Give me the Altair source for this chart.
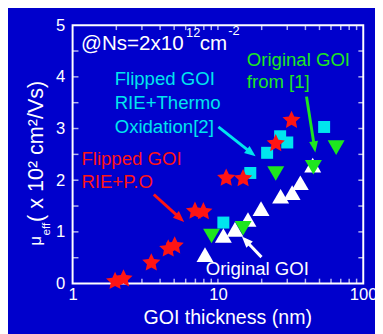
import math
import altair as alt
import pandas as pd

# ---------------- data ----------------
star_x = [1.96, 2.24, 3.48, 4.55, 5.04, 6.95, 7.94, 11.4, 14.9, 25.0, 32.1]
star_y = [0.06, 0.11, 0.42, 0.69, 0.75, 1.42, 1.41, 2.06, 2.05, 2.73, 3.18]

sq_x = [10.9, 16.7, 21.8, 26.8, 30.0, 53.8]
sq_y = [1.18, 2.14, 2.53, 2.85, 2.73, 3.03]

gtri_x = [9.04, 14.9, 25.0, 45.4, 65.1]
gtri_y = [0.92, 1.07, 2.13, 2.25, 2.63]

wtri_x = [8.15, 10.9, 13.1, 16.1, 19.8, 27.0, 32.4, 36.9, 44.9]
wtri_y = [0.56, 0.93, 1.05, 1.24, 1.45, 1.69, 1.76, 1.95, 2.29]

x_label_vals = [1, 10, 100]
y_label_vals = [0, 1, 2, 3, 4, 5]
x_minor_vals = [2, 3, 4, 5, 6, 7, 8, 9, 10, 20, 30, 40, 50, 60, 70, 80, 90]
y_minor_vals = [0.5, 1, 1.5, 2, 2.5, 3, 3.5, 4, 4.5]

# ---------------- styles ----------------
W, H = 297, 264
BG = "#0000CC"
RED = "#FF1414"
CYAN = "#00E5EE"
GREEN = "#1EE61E"
WHITE = "#FFFFFF"
FONT = "Liberation Sans"

def star_path(n=5, r_in=0.48):
    pts = []
    for i in range(2 * n):
        r = 1.0 if i % 2 == 0 else r_in
        a = math.pi * i / n
        pts.append((r * math.sin(a), -r * math.cos(a) + 0.1))
    return "M" + "L".join(f"{x:.4f},{y:.4f}" for x, y in pts) + "Z"

STAR = star_path()
HEAD = "M0,0L0.8,2L-0.8,2Z"

xscale = alt.Scale(type="log", domain=[1, 100], nice=False)
yscale = alt.Scale(domain=[0, 5], nice=False)

def xenc(field="x"):
    return alt.X(f"{field}:Q", scale=xscale,
                 axis=alt.Axis(values=x_label_vals, format="~g", ticks=False, domain=False,
                               grid=False, labelFontSize=17, labelColor=WHITE, labelFont=FONT,
                               labelPadding=3, labelFlush=False, labelOverlap=False,
                               title="GOI thickness (nm)", titleFontSize=20, titleColor=WHITE,
                               titleFont=FONT, titleFontWeight="normal", titleX=158, titleY=41,
                               titleBaseline="alphabetic"))

def yenc(field="y"):
    return alt.Y(f"{field}:Q", scale=yscale,
                 axis=alt.Axis(values=y_label_vals, ticks=False, domain=False, grid=False,
                               labelFontSize=17, labelColor=WHITE, labelFont=FONT,
                               labelPadding=8, labelFlush=False, labelOverlap=False, title=None))

def pts(xs, ys, shape, size, color):
    df = pd.DataFrame({"x": xs, "y": ys})
    return alt.Chart(df).mark_point(shape=shape, size=size, filled=True, color=color,
                                    opacity=1, strokeWidth=0).encode(x=xenc(), y=yenc())

one = pd.DataFrame({"a": [0]})

def txt(s, x, y, size, color, angle=0, align="left", baseline="alphabetic", lh=None):
    kw = dict(align=align, baseline=baseline, fontSize=size, color=color, font=FONT,
              angle=angle, lineBreak="\n")
    if lh:
        kw["lineHeight"] = lh
    return alt.Chart(one).mark_text(**kw).encode(x=alt.value(x), y=alt.value(y), text=alt.value(s))

def arrow(color, start, end, width=3):
    (x0, y0), (x1, y1) = start, end
    dx, dy = x1 - x0, y1 - y0
    L = math.hypot(dx, dy)
    ux, uy = dx / L, dy / L
    sx, sy = x1 - ux * 8, y1 - uy * 8
    ang = math.degrees(math.atan2(dx, -dy)) % 360
    shaft = alt.Chart(one).mark_rule(color=color, strokeWidth=width).encode(
        x=alt.value(x0), y=alt.value(y0), x2=alt.value(sx), y2=alt.value(sy))
    head = alt.Chart(one).mark_point(shape=HEAD, size=130, filled=True, color=color, opacity=1,
                                     strokeWidth=0, angle=ang).encode(
        x=alt.value(x1), y=alt.value(y1))
    return [shaft, head]

# inward ticks
xt = pd.DataFrame({"t": x_minor_vals})
yt = pd.DataFrame({"t": y_minor_vals})
tick_bottom = alt.Chart(xt).mark_tick(orient="vertical", size=5, thickness=1.5, color=WHITE).encode(
    x=xenc("t"), y=alt.value(H - 2.5))
tick_top = alt.Chart(xt).mark_tick(orient="vertical", size=5, thickness=1.5, color=WHITE).encode(
    x=xenc("t"), y=alt.value(2.5))
tick_left = alt.Chart(yt).mark_tick(orient="horizontal", size=6, thickness=1.5, color=WHITE).encode(
    y=yenc("t"), x=alt.value(3))
tick_right = alt.Chart(yt).mark_tick(orient="horizontal", size=5, thickness=1.5, color=WHITE).encode(
    y=yenc("t"), x=alt.value(W - 2.5))

layers = [tick_bottom, tick_top, tick_left, tick_right,
          pts(sq_x, sq_y, "square", 150, CYAN),
          pts(wtri_x, wtri_y, "triangle-up", 300, WHITE),
          pts(gtri_x, gtri_y, "triangle-down", 300, GREEN),
          pts(star_x, star_y, STAR, 380, RED)]

# annotations
layers += [
    txt("@Ns=2x10", 8.7, 25, 21, WHITE),
    txt("12", 116, 12, 13, WHITE),
    txt("cm", 130, 25, 21, WHITE),
    txt("-2", 159, 10, 13, WHITE),
    txt("Flipped GOI\nRIE+Thermo\nOxidation[2]", 43, 61, 19, CYAN, lh=24.5),
    txt("Original GOI\nfrom [1]", 178, 42, 19, GREEN, lh=22.5),
    txt("Flipped GOI\nRIE+P.O", 9, 143, 19, RED, lh=23),
    txt("Original GOI", 136, 255, 19, WHITE),
    # y-axis title pieces
    txt("μ", -32, 225, 17, WHITE, angle=270),
    txt("eff", -23, 215, 12, WHITE, angle=270),
    txt("( x 10² cm²/Vs)", -30, 201, 22, WHITE, angle=270),
]
layers += arrow(CYAN, (149, 104), (187, 134))
layers += arrow(GREEN, (239, 73), (248, 130))
layers += arrow(RED, (83, 173), (114, 201))
layers += arrow(WHITE, (193, 237), (173, 216))

chart = alt.layer(*layers).properties(
    width=W, height=H,
    autosize=alt.AutoSizeParams(type="none"),
    padding={"left": 66, "top": 14, "right": 12, "bottom": 48},
    background=BG,
).configure_view(stroke=WHITE, strokeWidth=2, fill=BG)

chart.save("out.html", embed_options={"renderer": "svg", "actions": False})
